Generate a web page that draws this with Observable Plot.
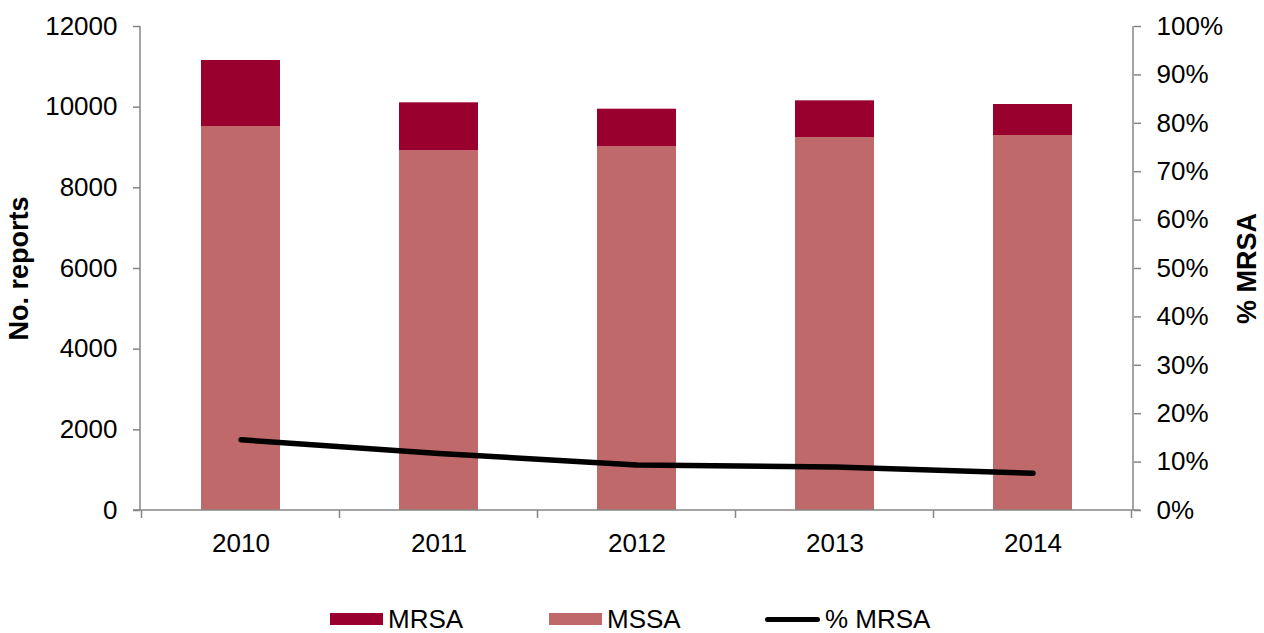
<!DOCTYPE html>
<html>
<head>
<meta charset="utf-8">
<script src="https://cdn.jsdelivr.net/npm/d3@7"></script>
<script src="https://cdn.jsdelivr.net/npm/@observablehq/plot@0.6"></script>
<style>
  html, body { margin: 0; padding: 0; background: #fff; }
  body { width: 1264px; height: 633px; overflow: hidden; font-family: "Liberation Sans", Arial, sans-serif; }
  #legend { position: relative; height: 33px; font-size: 26px; color: #000; }
  .item { position: absolute; top: 0; height: 38px; display: flex; align-items: center; }
  .sw { width: 53px; height: 12px; margin-right: 5px; }
  .ln { width: 55px; height: 5px; border-radius: 3px; background: #000; margin-right: 5px; }
</style>
</head>
<body>
<div id="chart"></div>
<div id="legend"></div>
<script>
const years = ["2010", "2011", "2012", "2013", "2014"];
const mrsa = [1636, 1190, 933, 909, 769];
const mssa = [9521, 8918, 9017, 9248, 9297];
const pctMrsa = [14.6, 11.8, 9.4, 9.0, 7.7];
const countTicks = [0, 2000, 4000, 6000, 8000, 10000, 12000];
const pctTicks = [0, 10, 20, 30, 40, 50, 60, 70, 80, 90, 100];
const seriesNames = ["MRSA", "MSSA", "% MRSA"];
const seriesColors = ["#99002E", "#C0696A", "#000000"];

const yMax = 12000;
const pctToY = p => p / 100 * yMax;

const stacked = [];
years.forEach((y, i) => {
  stacked.push({year: y, type: "MSSA", value: mssa[i]});
  stacked.push({year: y, type: "MRSA", value: mrsa[i]});
});
const pctRows = years.map((y, i) => ({year: y, pct: pctMrsa[i]}));

const grey = "#868686";
const W = 1264, H = 600;

const plot = Plot.plot({
  width: W,
  height: H,
  marginLeft: 140,
  marginRight: 131,
  marginTop: 26,
  marginBottom: 90,
  style: {fontFamily: '"Liberation Sans", Arial, sans-serif', fontSize: "26px", color: "#000", background: "#fff"},
  x: {domain: years, paddingInner: 0.6, paddingOuter: 0.3, label: null},
  y: {domain: [0, yMax], label: null},
  color: {domain: seriesNames.slice(0, 2), range: seriesColors.slice(0, 2)},
  marks: [
    Plot.barY(stacked, {x: "year", y: "value", fill: "type", order: null}),
    Plot.line(pctRows, {x: "year", y: d => pctToY(d.pct), stroke: seriesColors[2], strokeWidth: 5.5, strokeLinecap: "round", strokeLinejoin: "round"}),
    Plot.axisY(countTicks, {anchor: "left", tickSize: 7, tickPadding: 16, stroke: grey, strokeWidth: 1.5, fontSize: 26, tickFormat: d => String(d), label: null}),
    Plot.axisY(pctTicks.map(pctToY), {anchor: "right", tickSize: 7, tickPadding: 16, stroke: grey, strokeWidth: 1.5, fontSize: 26, tickFormat: d => Math.round(d / yMax * 100) + "%", label: null}),
    Plot.axisX({anchor: "bottom", tickSize: 0, tickPadding: 23, fontSize: 26, label: null}),
    Plot.text(["No. reports"], {frameAnchor: "left", textAnchor: "middle", dx: -121, rotate: -90, fontWeight: "bold", fontSize: 27}),
    Plot.text(["% MRSA"], {frameAnchor: "right", textAnchor: "middle", dx: 114, rotate: -90, fontWeight: "bold", fontSize: 27})
  ]
});

// axis lines and category boundary ticks, positioned from the plot's scales
const xs = plot.scale("x"), ys = plot.scale("y");
const svg = d3.select(plot);
const [x0, x1] = xs.range;
const yb = ys.apply(0), yt = ys.apply(yMax);
const g = svg.append("g").attr("stroke", grey).attr("stroke-width", 1.5).attr("fill", "none");
g.append("line").attr("x1", x0).attr("x2", x0).attr("y1", yt).attr("y2", yb);
g.append("line").attr("x1", x1).attr("x2", x1).attr("y1", yt).attr("y2", yb);
g.append("line").attr("x1", x0 - 7).attr("x2", x1 + 7).attr("y1", yb).attr("y2", yb);
const gap = (xs.step - xs.bandwidth) / 2;
const bounds = years.map(y => xs.apply(y) - gap).concat([xs.apply(years[years.length - 1]) + xs.bandwidth + gap]);
bounds.forEach(b => g.append("line").attr("x1", b).attr("x2", b).attr("y1", yb).attr("y2", yb + 8));

document.getElementById("chart").appendChild(plot);

// legend
const legend = document.getElementById("legend");
const lefts = [330, 549, 765];
seriesNames.forEach((name, i) => {
  const it = document.createElement("div");
  it.className = "item";
  it.style.left = lefts[i] + "px";
  const sw = document.createElement("div");
  if (i < 2) { sw.className = "sw"; sw.style.background = seriesColors[i]; }
  else { sw.className = "ln"; }
  const t = document.createElement("span");
  t.textContent = name;
  it.appendChild(sw); it.appendChild(t);
  legend.appendChild(it);
});
</script>
</body>
</html>
